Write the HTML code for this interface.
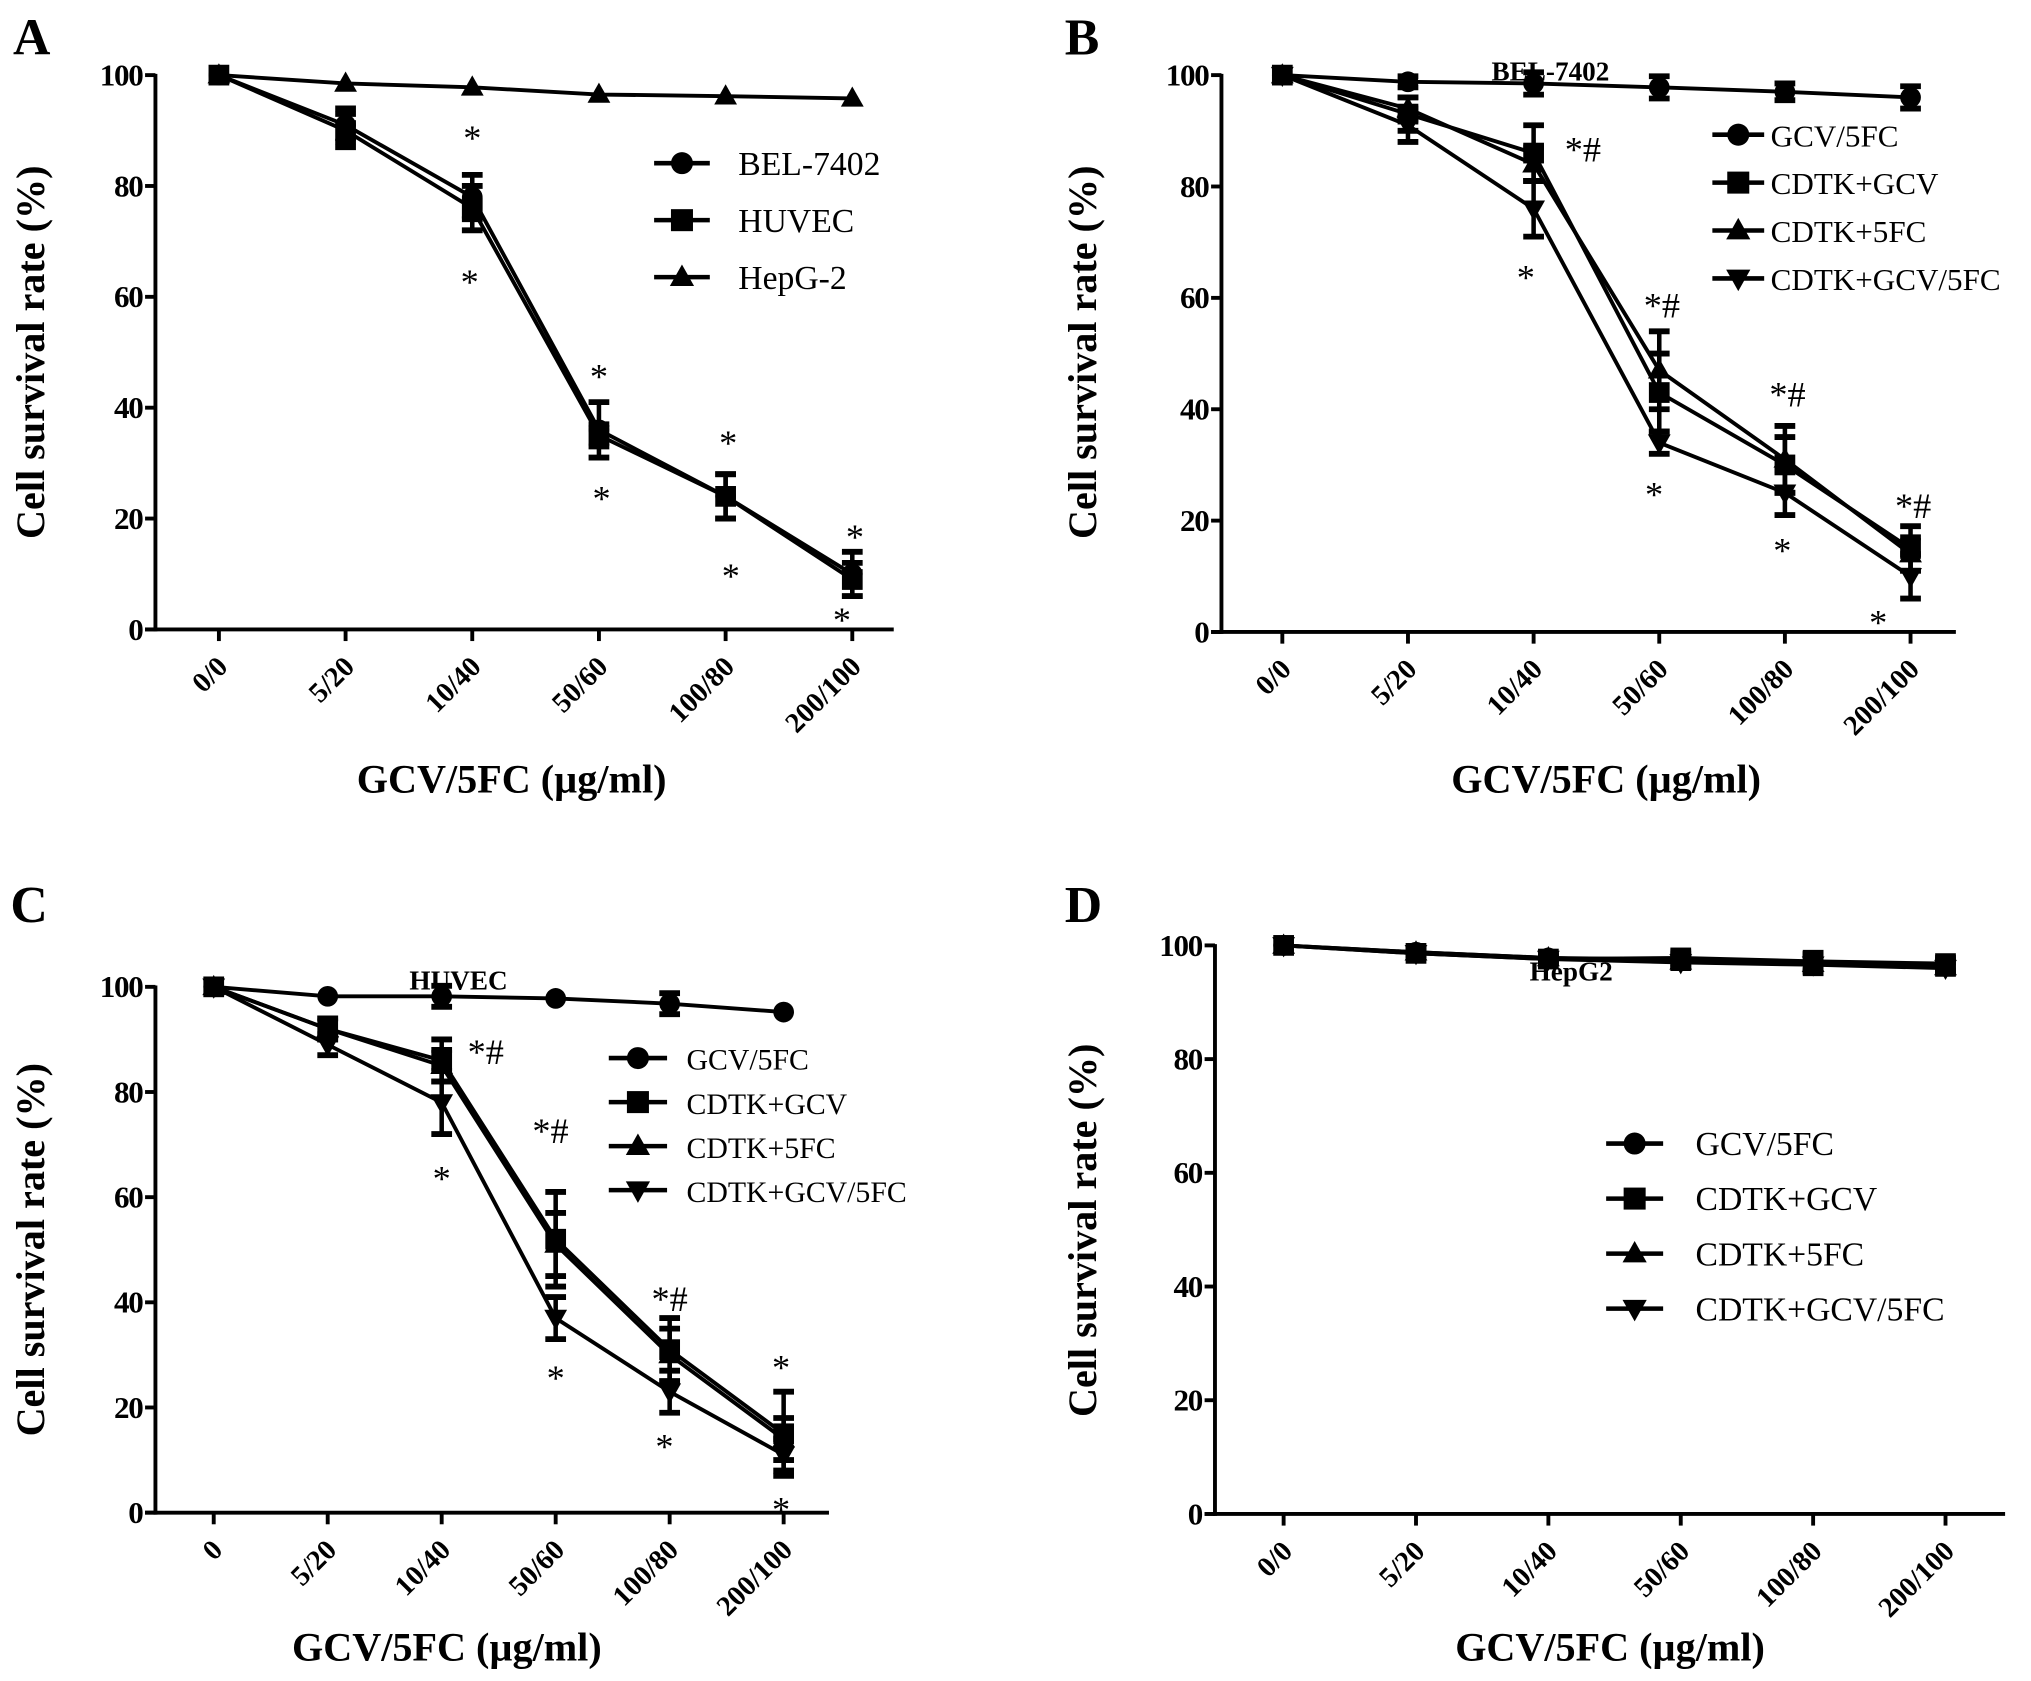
<!DOCTYPE html>
<html><head><meta charset="utf-8"><style>
html,body{margin:0;padding:0;background:#fff;}
svg{display:block;}
text{font-family:"Liberation Serif",serif;fill:#000;}
</style></head><body>
<svg id="fig" width="2031" height="1681" viewBox="0 0 1568 1298" preserveAspectRatio="none" xmlns="http://www.w3.org/2000/svg"></svg>
<script>
// ---- data ----
const xLabelsStd = ["0/0","5/20","10/40","50/60","100/80","200/100"];
const xLabelsC = ["0","5/20","10/40","50/60","100/80","200/100"];
const yTicks = [0,20,40,60,80,100];

const aBel = [100,91,78,36,24,10];
const aHuvec = [100,90,76,35,24,9];
const aHepg2 = [100,98.5,97.8,96.5,96.2,95.8];
const aBelErr = [0,3,4,5,4,4];
const aHuvecErr = [0,3,4,2,4,3];
const aHepg2Err = [0,0,0,0,0,0];

const bGcv5fc = [100,98.8,98.5,97.8,97,96];
const bCdtkGcv = [100,93,86,43,30,15];
const bCdtk5fc = [100,94,84,47,31,14];
const bCdtkBoth = [100,91,76,34,25,10];
const bGcv5fcErr = [0,1,2,2,1.5,2];
const bCdtkGcvErr = [0,3,5,7,5,4];
const bCdtk5fcErr = [0,2,3,7,6,3];
const bCdtkBothErr = [0,3,5,2,4,4];

const cGcv5fc = [100,98.2,98.2,97.8,96.8,95.2];
const cCdtkGcv = [100,92,86,52,31,15];
const cCdtk5fc = [100,92,85,51,30,14];
const cCdtkBoth = [100,89,78,37,23,11];
const cGcv5fcErr = [0,0,2,0,2,0];
const cCdtkGcvErr = [0,2,4,9,6,8];
const cCdtk5fcErr = [0,2,3,6,5,4];
const cCdtkBothErr = [0,2,6,4,4,3];

const dGcv5fc = [100,98.8,97.8,97.5,97,96.5];
const dCdtkGcv = [100,98.6,97.6,97.8,97.2,96.8];
const dCdtk5fc = [100,98.8,97.8,97.2,96.8,96.2];
const dCdtkBoth = [100,98.6,97.6,97,96.6,96];
const dErr = [0,0.5,0.5,1,1.5,1];

// annotations: [index, value, text, xOffset]
const aAnnot = [[2,90,"*",0],[2,64,"*",-2],[3,47,"*",0],[3,25,"*",2],[4,35,"*",2],[4,11,"*",4],[5,18,"*",2],[5,3,"*",-8]];
const bAnnot = [[2,88,"*#",38],[2,65,"*",-6],[3,60,"*#",2],[3,26,"*",-4],[4,44,"*#",2],[4,16,"*",-2],[5,24,"*#",2],[5,3,"*",-25]];
const cAnnot = [[2,89,"*#",34],[2,65,"*",0],[3,74,"*#",-4],[3,27,"*",0],[4,42,"*#",0],[4,14,"*",-4],[5,29,"*",-2],[5,2,"*",-2]];

const NS = "http://www.w3.org/2000/svg";
const svg = document.getElementById('fig');
function mk(tag, attrs, parent){
  const e = document.createElementNS(NS, tag);
  for (const k in attrs) e.setAttribute(k, attrs[k]);
  (parent||svg).appendChild(e);
  return e;
}
function marker(g, shape, x, y, s){
  let e;
  if (shape==="circle") e = mk('circle',{cx:x,cy:y,r:s},g);
  else if (shape==="square") e = mk('rect',{x:x-s,y:y-s,width:2*s,height:2*s},g);
  else if (shape==="tri") e = mk('polygon',{points:`${x},${y-s*1.15} ${x-s*1.1},${y+s*0.8} ${x+s*1.1},${y+s*0.8}`},g);
  else e = mk('polygon',{points:`${x},${y+s*1.15} ${x-s*1.1},${y-s*0.8} ${x+s*1.1},${y-s*0.8}`},g);
  e.setAttribute('fill','#000');
  return e;
}

function panel(cfg){
  const g = mk('g',{});
  
  
  const yS = v => cfg.y0 - v*(cfg.y0-cfg.y100)/100;
  const xS = i => cfg.px0 + i*cfg.dx;
  const L = mk('text',{x:cfg.letterX,y:cfg.letterY,'font-size':40,'font-weight':'bold'},g);
  L.textContent = cfg.letter;
  
  
  const ya = mk('line',{x1:cfg.ax0,y1:yS(100)-1,x2:cfg.ax0,y2:cfg.y0+1.5,stroke:'#000','stroke-width':3},g);
  
  
  const xa = mk('line',{x1:cfg.ax0-8,y1:cfg.y0,x2:cfg.axEnd,y2:cfg.y0,stroke:'#000','stroke-width':3},g);
  
  
  yTicks.forEach(t=>{
    mk('line',{x1:cfg.ax0-8,y1:yS(t),x2:cfg.ax0,y2:yS(t),stroke:'#000','stroke-width':3},g);
    const tx = mk('text',{x:cfg.ax0-10,y:yS(t)+8,'font-size':24,'font-weight':'bold','text-anchor':'end','letter-spacing':-1},g);
    tx.textContent = t;
    
    
  });
  cfg.xLabels.forEach((lab,i)=>{
    const x = xS(i);
    mk('line',{x1:x,y1:cfg.y0,x2:x,y2:cfg.y0+9,stroke:'#000','stroke-width':3},g);
    const tx = mk('text',{x:x+8,y:cfg.y0+30,'font-size':22,'font-weight':'bold','text-anchor':'end',transform:`rotate(-45 ${x+8} ${cfg.y0+30})`},g);
    tx.textContent = lab;
    
    
  });
  const yt = mk('text',{x:cfg.ytX,y:cfg.ytY,'font-size':31,'font-weight':'bold','text-anchor':'middle',transform:`rotate(-90 ${cfg.ytX} ${cfg.ytY})`},g);
  yt.textContent = "Cell survival rate (%)";
  
  
  const xt = mk('text',{x:cfg.xtX,y:cfg.xtY,'font-size':31,'font-weight':'bold','text-anchor':'middle'},g);
  xt.textContent = "GCV/5FC (\u00b5g/ml)";
  
  
  if (cfg.title){
    const tt = mk('text',{x:cfg.title[1],y:cfg.title[2],'font-size':21,'font-weight':'bold','text-anchor':'middle'},g);
    tt.textContent = cfg.title[0];
    
    
  }
  cfg.series.forEach(s=>{
    const sg = mk('g',{},g);
    
    
    const pts = s.vals.map((v,i)=>xS(i)+','+yS(v)).join(' ');
    mk('polyline',{points:pts,fill:'none',stroke:'#000','stroke-width':3},sg);
    s.vals.forEach((v,i)=>{
      const e = s.err[i];
      if (e>0){
        const x=xS(i);
        mk('line',{x1:x,y1:yS(v+e),x2:x,y2:yS(v-e),stroke:'#000','stroke-width':3.5},sg);
        mk('line',{x1:x-8,y1:yS(v+e),x2:x+8,y2:yS(v+e),stroke:'#000','stroke-width':4.5},sg);
        mk('line',{x1:x-8,y1:yS(v-e),x2:x+8,y2:yS(v-e),stroke:'#000','stroke-width':4.5},sg);
      }
      const m = marker(sg, s.shape, xS(i), yS(v), 8);
      
      
    });
  });
  (cfg.annot||[]).forEach(a=>{
    const t = mk('text',{x:xS(a[0])+a[3],y:yS(a[1])+15,'font-size':28,'text-anchor':'middle'},g);
    t.textContent = a[2];
    
    
  });
  const lg = mk('g',{},g);
  
  
  cfg.series.forEach((s,k)=>{
    const y = cfg.leg.y0 + k*cfg.leg.dy;
    const eg = mk('g',{},lg);
    
    
    mk('line',{x1:cfg.leg.x1,y1:y,x2:cfg.leg.x2,y2:y,stroke:'#000','stroke-width':3.5},eg);
    marker(eg, s.shape, (cfg.leg.x1+cfg.leg.x2)/2, y, 8.5);
    const t = mk('text',{x:cfg.leg.tx,y:y+9,'font-size':cfg.leg.fs},eg);
    t.textContent = s.label;
  });
}

panel({name:'panel-a',letter:'A',letterX:10,letterY:42,ax0:120,y0:486,y100:58,px0:169,dx:97.8,axEnd:690,
  xLabels:xLabelsStd,ytX:34,ytY:272,xtX:395,xtY:612,
  series:[{key:'bel-7402',label:'BEL-7402',shape:'circle',vals:aBel,err:aBelErr},
          {key:'huvec',label:'HUVEC',shape:'square',vals:aHuvec,err:aHuvecErr},
          {key:'hepg-2',label:'HepG-2',shape:'tri',vals:aHepg2,err:aHepg2Err}],
  annot:aAnnot,leg:{x1:505,x2:548,tx:570,y0:126,dy:44,fs:26}});

panel({name:'panel-b',letter:'B',letterX:822,letterY:42,ax0:943,y0:488,y100:58,px0:990,dx:97,axEnd:1510,
  xLabels:xLabelsStd,ytX:846,ytY:272,xtX:1240,xtY:612,title:['BEL-7402',1197,62],
  series:[{key:'gcv-5fc',label:'GCV/5FC',shape:'circle',vals:bGcv5fc,err:bGcv5fcErr},
          {key:'cdtk-gcv',label:'CDTK+GCV',shape:'square',vals:bCdtkGcv,err:bCdtkGcvErr},
          {key:'cdtk-5fc',label:'CDTK+5FC',shape:'tri',vals:bCdtk5fc,err:bCdtk5fcErr},
          {key:'cdtk-gcv-5fc',label:'CDTK+GCV/5FC',shape:'inv',vals:bCdtkBoth,err:bCdtkBothErr}],
  annot:bAnnot,leg:{x1:1322,x2:1362,tx:1367,y0:104,dy:37,fs:24}});

panel({name:'panel-c',letter:'C',letterX:8,letterY:712,ax0:120,y0:1168,y100:762,px0:165,dx:88,axEnd:640,
  xLabels:xLabelsC,ytX:34,ytY:965,xtX:345,xtY:1282,title:['HUVEC',354,764],
  series:[{key:'gcv-5fc',label:'GCV/5FC',shape:'circle',vals:cGcv5fc,err:cGcv5fcErr},
          {key:'cdtk-gcv',label:'CDTK+GCV',shape:'square',vals:cCdtkGcv,err:cCdtkGcvErr},
          {key:'cdtk-5fc',label:'CDTK+5FC',shape:'tri',vals:cCdtk5fc,err:cCdtk5fcErr},
          {key:'cdtk-gcv-5fc',label:'CDTK+GCV/5FC',shape:'inv',vals:cCdtkBoth,err:cCdtkBothErr}],
  annot:cAnnot,leg:{x1:470,x2:515,tx:530,y0:817,dy:34,fs:23}});

panel({name:'panel-d',letter:'D',letterX:822,letterY:712,ax0:938,y0:1169,y100:730,px0:991,dx:102.2,axEnd:1548,
  xLabels:xLabelsStd,ytX:846,ytY:950,xtX:1243,xtY:1282,title:['HepG2',1213,757],
  series:[{key:'gcv-5fc',label:'GCV/5FC',shape:'circle',vals:dGcv5fc,err:dErr},
          {key:'cdtk-gcv',label:'CDTK+GCV',shape:'square',vals:dCdtkGcv,err:dErr},
          {key:'cdtk-5fc',label:'CDTK+5FC',shape:'tri',vals:dCdtk5fc,err:dErr},
          {key:'cdtk-gcv-5fc',label:'CDTK+GCV/5FC',shape:'inv',vals:dCdtkBoth,err:dErr}],
  annot:[],leg:{x1:1240,x2:1284,tx:1309,y0:883,dy:42.5,fs:26}});
</script>
</body></html>
